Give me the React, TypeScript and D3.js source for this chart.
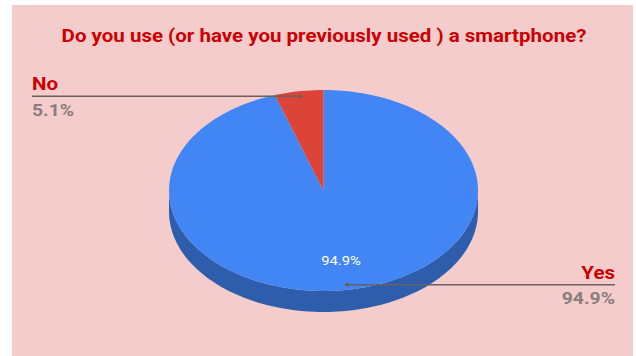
import React from "react";
import * as d3 from "d3";

const categories = ["Yes", "No"];
const values = [94.9, 5.1];
const colors = ["#4285f4", "#db4437"];
const sideColors = ["#2e5eab", "#a8332a"];
const title = "Do you use (or have you previously used ) a smartphone?";

const W = 636, H = 356;
const cx = 323.5, cy = 190.5, rx = 154.5, ry = 100.5, depth = 21;
const SX = 1.14;

function pt(a: number, k = 1, dy = 0): [number, number] {
  return [cx + rx * k * Math.sin(a), cy - ry * k * Math.cos(a) + dy];
}

function T(props: any) {
  const { x, y, children, ...rest } = props;
  return (
    <text transform={`translate(${x},${y}) scale(${SX},1)`} fontFamily="Roboto" {...rest}>
      {children}
    </text>
  );
}

export default function App() {
  const arcs = d3.pie<number>().sort(null).startAngle(0).endAngle(2 * Math.PI)(values);
  const total = d3.sum(values);

  const topPath = (a0: number, a1: number) => {
    const n = Math.max(2, Math.ceil(((a1 - a0) / (2 * Math.PI)) * 200));
    const pts = d3.range(n + 1).map((i) => pt(a0 + ((a1 - a0) * i) / n));
    return "M" + cx + "," + cy + "L" + pts.map((p) => p.join(",")).join("L") + "Z";
  };

  const sidePath = (a0: number, a1: number) => {
    const s = Math.max(a0, Math.PI / 2);
    const e = Math.min(a1, (3 * Math.PI) / 2);
    if (e <= s) return null;
    const n = Math.max(2, Math.ceil(((e - s) / (2 * Math.PI)) * 200));
    const upper = d3.range(n + 1).map((i) => pt(s + ((e - s) * i) / n));
    const lower = d3.range(n + 1).map((i) => pt(e - ((e - s) * i) / n, 1, depth));
    return "M" + upper.concat(lower).map((p) => p.join(",")).join("L") + "Z";
  };

  const labelRight = (a: number) => Math.sin(a) > 0;

  return (
    <svg width={W} height={H} style={{ position: "absolute", left: 0, top: 0 }}>
      <rect x={0} y={0} width={W} height={H} fill="#ffffff" />
      <rect x={12} y={5} width={621} height={351} fill="#f4cccc" />
      <T x={324} y={42} textAnchor="middle" fontWeight="bold" fontSize={18} fill="#cc0000">
        {title}
      </T>
      {arcs.map((d, i) => {
        const p = sidePath(d.startAngle, d.endAngle);
        return p ? <path key={"s" + i} d={p} fill={sideColors[i]} /> : null;
      })}
      {arcs.map((d, i) => (
        <path key={"t" + i} d={topPath(d.startAngle, d.endAngle)} fill={colors[i]} />
      ))}
      {arcs.map((d, i) => {
        const mid = (d.startAngle + d.endAngle) / 2;
        const pct = ((values[i] / total) * 100).toFixed(1) + "%";
        const [dx, dyy] = pt(mid, 0.95);
        const right = labelRight(mid);
        const ex = right ? 615 : 32;
        const inner = values[i] / total > 0.1;
        const [ix, iy] = pt(mid, 0.71);
        return (
          <g key={"l" + i}>
            {inner && (
              <T x={ix} y={iy + 4.5} textAnchor="middle" fontSize={13} fill="#ffffff">
                {pct}
              </T>
            )}
            <line x1={dx} y1={dyy} x2={ex} y2={dyy} stroke="#6b5f5f" strokeWidth={1.3} />
            <circle cx={dx} cy={dyy} r={2} fill="#6b5f5f" />
            <T x={ex} y={dyy - 6} textAnchor={right ? "end" : "start"} fontWeight="bold" fontSize={18} fill="#cc0000">
              {categories[i]}
            </T>
            <T x={ex} y={dyy + 19.5} textAnchor={right ? "end" : "start"} fontWeight="bold" fontSize={17} fill="#8a7e7e">
              {pct}
            </T>
          </g>
        );
      })}
    </svg>
  );
}
